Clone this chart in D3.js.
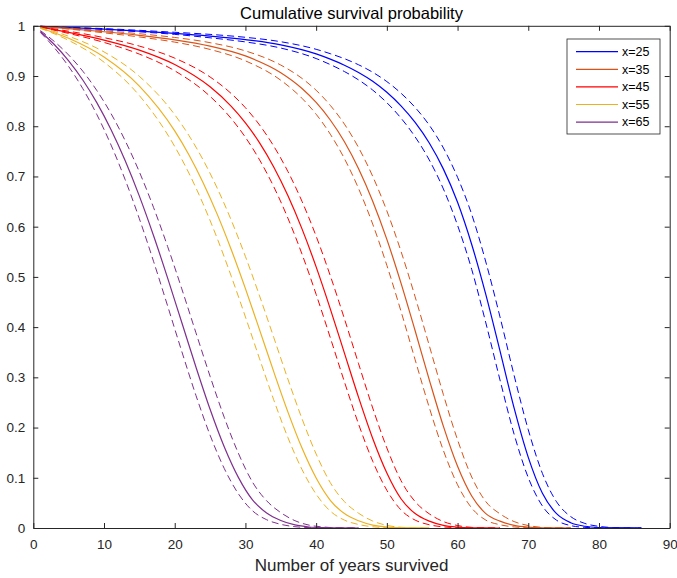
<!DOCTYPE html>
<html>
<head>
<meta charset="utf-8">
<script src="https://cdn.jsdelivr.net/npm/d3@7"></script>
<style>
  body { margin: 0; background: #fff; }
  text { font-family: "Liberation Sans", Arial, Helvetica, sans-serif; }
</style>
</head>
<body>
<svg id="chart" width="677" height="578"></svg>
<script>
// Survival curves for starting ages x = 25 … 65: central estimate plus upper/lower band
const labels = ["x=25", "x=35", "x=45", "x=55", "x=65"];
const colors = ["#0000FF", "#D95319", "#FF0000", "#EDB120", "#7E2F8E"];

const yrs25 = [1,5,10,15,20,25,30,35,40,42,44,46,48,50,52,54,56,58,60,62,64,66,68,70,72,74,76,78,80,82,84,86];
const est25 = [0.9990,0.9965,0.9935,0.9895,0.9850,0.9795,0.9725,0.9620,0.9440,0.9336,0.9216,0.9072,0.8896,0.8676,0.8406,0.8076,0.7666,0.7146,0.6486,0.5646,0.4646,0.3526,0.2386,0.1406,0.0690,0.0285,0.0105,0.0035,0.0010,0.0003,0.0001,0];
const up25  = [0.9991,0.9970,0.9944,0.9910,0.9871,0.9829,0.9771,0.9683,0.9532,0.9445,0.9345,0.9224,0.9075,0.8889,0.8658,0.8374,0.8021,0.7566,0.6982,0.6245,0.5296,0.4203,0.3037,0.1956,0.1087,0.0522,0.0227,0.0091,0.0032,0.0009,0.0004,0];
const lw25  = [0.9989,0.9960,0.9926,0.9880,0.9829,0.9761,0.9679,0.9557,0.9348,0.9228,0.9089,0.8923,0.8720,0.8469,0.8162,0.7788,0.7328,0.6750,0.6027,0.5149,0.4083,0.2948,0.1866,0.1002,0.0438,0.0155,0.0048,0.0013,0.0003,0.0001,0,0];

const yrs35 = [1,5,10,15,20,25,30,35,38,40,42,44,46,48,50,52,54,56,58,60,62,64,66,68,70,72,74,76];
const est35 = [0.9989,0.9943,0.9881,0.9810,0.9721,0.9596,0.9400,0.9066,0.8752,0.8474,0.8124,0.7691,0.7155,0.6508,0.5747,0.4876,0.3927,0.2951,0.2023,0.1228,0.0636,0.0287,0.0136,0.0052,0.0017,0.0004,0.0001,0];
const up35  = [0.9990,0.9951,0.9901,0.9842,0.9768,0.9664,0.9500,0.9218,0.8953,0.8716,0.8416,0.8042,0.7574,0.7002,0.6314,0.5509,0.4603,0.3632,0.2654,0.1755,0.1016,0.0525,0.0282,0.0128,0.0049,0.0012,0.0003,0];
const lw35  = [0.9987,0.9935,0.9860,0.9778,0.9675,0.9529,0.9302,0.8916,0.8556,0.8239,0.7842,0.7355,0.6759,0.6051,0.5230,0.4316,0.3350,0.2398,0.1542,0.0860,0.0398,0.0157,0.0065,0.0021,0.0006,0.0001,0,0];

const yrs45 = [1,5,10,15,20,25,28,30,32,34,36,38,40,42,44,46,48,50,52,54,56,58,60,62,64,66];
const est45 = [0.9975,0.9870,0.9716,0.9516,0.9229,0.8785,0.8397,0.8068,0.7669,0.7190,0.6620,0.5956,0.5199,0.4364,0.3481,0.2601,0.1783,0.1095,0.0582,0.0287,0.0136,0.0052,0.0017,0.0004,0.0001,0];
const up45  = [0.9979,0.9892,0.9764,0.9596,0.9356,0.8981,0.8650,0.8368,0.8024,0.7605,0.7100,0.6504,0.5810,0.5024,0.4166,0.3271,0.2390,0.1594,0.0944,0.0525,0.0282,0.0128,0.0049,0.0012,0.0003,0];
const lw45  = [0.9972,0.9848,0.9669,0.9436,0.9104,0.8595,0.8151,0.7779,0.7330,0.6797,0.6171,0.5454,0.4652,0.3790,0.2910,0.2069,0.1330,0.0751,0.0359,0.0157,0.0065,0.0021,0.0006,0.0001,0,0];

const yrs55 = [1,5,10,15,20,22,24,26,28,30,32,34,36,38,40,42,44,46,48,50,52,54,56];
const est55 = [0.9957,0.9751,0.9378,0.8800,0.7908,0.7434,0.6882,0.6250,0.5541,0.4766,0.3946,0.3113,0.2313,0.1591,0.0995,0.0552,0.0287,0.0143,0.0058,0.0018,0.0005,0.0001,0];
const up55  = [0.9963,0.9792,0.9480,0.8993,0.8230,0.7817,0.7334,0.6770,0.6127,0.5406,0.4621,0.3797,0.2966,0.2176,0.1473,0.0903,0.0525,0.0294,0.0139,0.0052,0.0014,0.0003,0];
const lw55  = [0.9951,0.9710,0.9276,0.8611,0.7597,0.7068,0.6458,0.5770,0.5011,0.4203,0.3369,0.2553,0.1803,0.1165,0.0673,0.0337,0.0157,0.0070,0.0024,0.0007,0.0002,0,0];

const yrs65 = [1,3,5,7,9,11,13,15,17,19,21,23,25,27,29,31,33,35,37,39,41,43,46];
const est65 = [0.9886,0.9622,0.9303,0.8921,0.8466,0.7931,0.7312,0.6608,0.5824,0.4976,0.4091,0.3205,0.2364,0.1618,0.1008,0.0560,0.0299,0.0150,0.0061,0.0020,0.0006,0.0001,0];
const up65  = [0.9905,0.9685,0.9418,0.9096,0.8708,0.8250,0.7711,0.7090,0.6385,0.5603,0.4762,0.3888,0.3021,0.2205,0.1489,0.0914,0.0542,0.0306,0.0146,0.0057,0.0020,0.0004,0];
const lw65  = [0.9867,0.9560,0.9190,0.8749,0.8229,0.7625,0.6933,0.6158,0.5312,0.4420,0.3515,0.2641,0.1849,0.1187,0.0682,0.0343,0.0165,0.0073,0.0026,0.0008,0.0002,0,0];

const xTicks = [0,10,20,30,40,50,60,70,80,90];
const yTicks = [0,0.1,0.2,0.3,0.4,0.5,0.6,0.7,0.8,0.9,1];

const cohorts = [
  { years: yrs25, est: est25, up: up25, lw: lw25 },
  { years: yrs35, est: est35, up: up35, lw: lw35 },
  { years: yrs45, est: est45, up: up45, lw: lw45 },
  { years: yrs55, est: est55, up: up55, lw: lw55 },
  { years: yrs65, est: est65, up: up65, lw: lw65 }
];

const svg = d3.select("#chart");
const plot = { left: 33.3, right: 669.7, top: 25.8, bottom: 528 };
const axisColor = "#262626";

const x = d3.scaleLinear().domain([0, 90]).range([plot.left, plot.right]);
const y = d3.scaleLinear().domain([0, 1]).range([plot.bottom, plot.top]);

svg.append("rect").attr("width", 677).attr("height", 578).attr("fill", "#fff");

// Curves
const line = (yrs, vals) => d3.line()
  .x((d, i) => x(yrs[i]))
  .y(d => y(d))
  .curve(d3.curveMonotoneX)(vals);

const curves = svg.append("g").attr("fill", "none");
cohorts.forEach((c, k) => {
  curves.append("path").attr("d", line(c.years, c.est))
    .attr("stroke", colors[k]).attr("stroke-width", 1.2);
  [c.up, c.lw].forEach(band => {
    curves.append("path").attr("d", line(c.years, band))
      .attr("stroke", colors[k]).attr("stroke-width", 1)
      .attr("stroke-dasharray", "7,4");
  });
});

// Axes (inward ticks on all four sides)
function styleAxis(g) {
  g.selectAll(".domain").attr("stroke", axisColor).attr("stroke-width", 1);
  g.selectAll(".tick line").attr("stroke", axisColor).attr("stroke-width", 1);
  g.selectAll(".tick text").attr("fill", axisColor).style("font-size", "13.5px")
    .style("font-family", '"Liberation Sans", Arial, sans-serif');
}

svg.append("g").attr("transform", `translate(0,${plot.bottom})`)
  .call(d3.axisBottom(x).tickValues(xTicks).tickFormat(d3.format("d"))
    .tickSize(-5).tickSizeOuter(0).tickPadding(11))
  .call(styleAxis);

svg.append("g").attr("transform", `translate(0,${plot.top})`)
  .call(d3.axisTop(x).tickValues(xTicks).tickFormat("").tickSize(-5).tickSizeOuter(0))
  .call(styleAxis);

svg.append("g").attr("transform", `translate(${plot.left},0)`)
  .call(d3.axisLeft(y).tickValues(yTicks).tickFormat(d => d === 0 || d === 1 ? d3.format("d")(d) : d3.format(".1f")(d))
    .tickSize(-5).tickSizeOuter(0).tickPadding(8))
  .call(styleAxis);

svg.append("g").attr("transform", `translate(${plot.right},0)`)
  .call(d3.axisRight(y).tickValues(yTicks).tickFormat("").tickSize(-5).tickSizeOuter(0))
  .call(styleAxis);

// Title and axis label
svg.append("text").attr("x", (plot.left + plot.right) / 2).attr("y", 19)
  .attr("text-anchor", "middle").attr("fill", "#000").style("font-size", "16.5px")
  .text("Cumulative survival probability");

svg.append("text").attr("x", (plot.left + plot.right) / 2).attr("y", 571)
  .attr("text-anchor", "middle").attr("fill", axisColor).style("font-size", "17px")
  .text("Number of years survived");

// Legend
const legend = svg.append("g").attr("transform", "translate(567,39)");
legend.append("rect").attr("width", 93).attr("height", 95)
  .attr("fill", "#fff").attr("stroke", axisColor).attr("stroke-width", 0.8);
labels.forEach((lab, k) => {
  const ly = 12.7 + k * 17.6;
  legend.append("line").attr("x1", 9).attr("x2", 51).attr("y1", ly).attr("y2", ly)
    .attr("stroke", colors[k]).attr("stroke-width", 1.2);
  legend.append("text").attr("x", 55).attr("y", ly).attr("dy", "0.35em")
    .attr("fill", "#000").style("font-size", "12.5px").text(lab);
});
</script>
</body>
</html>
